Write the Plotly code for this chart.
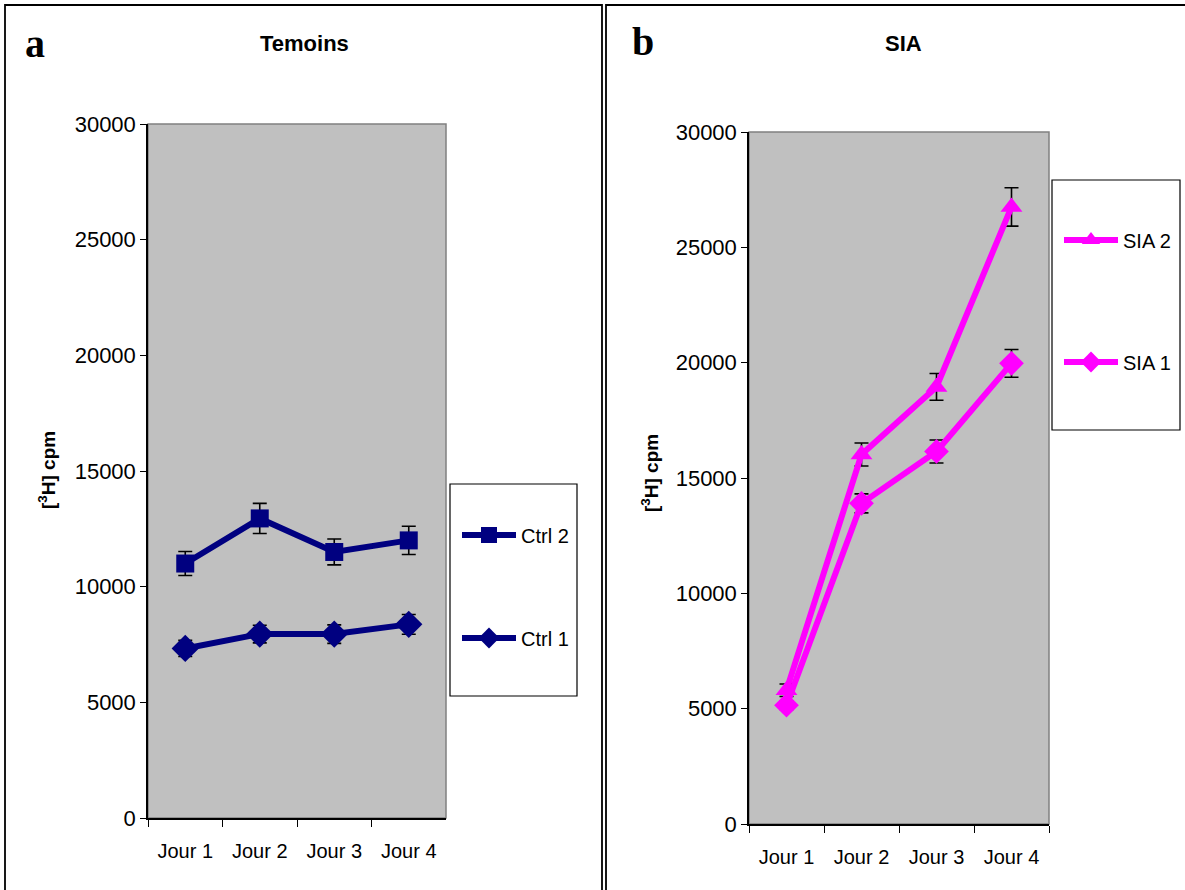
import plotly.graph_objects as go

W, H = 1185, 890

days = ["Jour 1", "Jour 2", "Jour 3", "Jour 4"]

ctrl2 = [11000, 12950, 11500, 12000]
ctrl2_err = [520, 650, 560, 610]
ctrl1 = [7330, 7950, 7950, 8370]
ctrl1_err = [350, 380, 400, 430]

sia2 = [5800, 16020, 18950, 26750]
sia2_err = [270, 500, 580, 830]
sia1 = [5150, 13900, 16150, 19970]
sia1_err = [180, 410, 500, 600]

y_ticks = [0, 5000, 10000, 15000, 20000, 25000, 30000]

NAVY = "#000080"
MAG = "#FF00FF"
FONT = "Liberation Sans, Arial, sans-serif"
SERIF = "Liberation Serif, Times New Roman, serif"


def px_x(p):
    return p / W


def px_y(p):
    return 1 - p / H


fig = go.Figure()

err_style = dict(type="data", color="black", thickness=1.6, width=7, visible=True)

fig.add_trace(go.Scatter(
    x=days, y=ctrl2, name="Ctrl 2", mode="lines+markers",
    line=dict(color=NAVY, width=6),
    marker=dict(symbol="square", size=18, color=NAVY),
    error_y=dict(array=ctrl2_err, **err_style),
    xaxis="x", yaxis="y", legend="legend", showlegend=True))
fig.add_trace(go.Scatter(
    x=days, y=ctrl1, name="Ctrl 1", mode="lines+markers",
    line=dict(color=NAVY, width=6),
    marker=dict(symbol="diamond", size=21, color=NAVY),
    error_y=dict(array=ctrl1_err, **err_style),
    xaxis="x", yaxis="y", legend="legend2", showlegend=True))
fig.add_trace(go.Scatter(
    x=days, y=sia2, name="SIA 2", mode="lines+markers",
    line=dict(color=MAG, width=6),
    marker=dict(symbol="triangle-up", size=19, color=MAG),
    error_y=dict(array=sia2_err, **err_style),
    xaxis="x2", yaxis="y2", legend="legend3", showlegend=True))
fig.add_trace(go.Scatter(
    x=days, y=sia1, name="SIA 1", mode="lines+markers",
    line=dict(color=MAG, width=6),
    marker=dict(symbol="diamond", size=19, color=MAG),
    error_y=dict(array=sia1_err, **err_style),
    xaxis="x2", yaxis="y2", legend="legend4", showlegend=True))

xfont = dict(family=FONT, size=20, color="black")
yfont = dict(family=FONT, size=22, color="black")

xcommon = dict(type="category", categoryorder="array", categoryarray=days,
               range=[-0.5, 3.5], autorange=False,
               tickson="boundaries", ticks="outside", ticklen=7, tickwidth=1,
               tickcolor="black", showline=True, linecolor="black", linewidth=1.5,
               showgrid=False, zeroline=False, tickfont=xfont,
               ticklabelstandoff=14, fixedrange=True, automargin=False)
ycommon = dict(range=[0, 30000], autorange=False, tickvals=y_ticks, tickformat="d",
               ticks="outside", ticklen=6, tickwidth=1, tickcolor="black",
               showline=True, linecolor="black", linewidth=1.5, showgrid=False,
               zeroline=False, tickfont=yfont, ticklabelstandoff=0, fixedrange=True,
               automargin=False)

L = dict(x0=148, x1=446, y0=124, y1=818)
R = dict(x0=749, x1=1049, y0=132, y1=824)

fig.update_layout(
    width=W, height=H, autosize=False,
    margin=dict(l=0, r=0, t=0, b=0, pad=0, autoexpand=False),
    paper_bgcolor="white", plot_bgcolor="#C0C0C0",
    font=dict(family=FONT, color="black"),
    showlegend=True,
    xaxis=dict(domain=[px_x(L["x0"]), px_x(L["x1"])], anchor="y", **xcommon),
    yaxis=dict(domain=[px_y(L["y1"]), px_y(L["y0"])], anchor="x", **ycommon),
    xaxis2=dict(domain=[px_x(R["x0"]), px_x(R["x1"])], anchor="y2", **xcommon),
    yaxis2=dict(domain=[px_y(R["y1"]), px_y(R["y0"])], anchor="x2", **ycommon),
)

leg_common = dict(font=dict(family=FONT, size=20, color="black"),
                  bgcolor="rgba(0,0,0,0)", borderwidth=0,
                  xanchor="left", yanchor="middle", itemwidth=54,
                  itemclick=False, itemdoubleclick=False, visible=True)
fig.update_layout(
    legend=dict(x=px_x(457), y=px_y(535), **leg_common),
    legend2=dict(x=px_x(457), y=px_y(638), **leg_common),
    legend3=dict(x=px_x(1059), y=px_y(240), **leg_common),
    legend4=dict(x=px_x(1059), y=px_y(362), **leg_common),
)

shapes = []
for xa, ya in (("x", "y"), ("x2", "y2")):
    shapes.append(dict(type="rect", xref=f"{xa} domain", yref=f"{ya} domain",
                       x0=0, x1=1, y0=0, y1=1, line=dict(color="#808080", width=1.5),
                       layer="below"))
shapes.append(dict(type="rect", xref="paper", yref="paper",
                   x0=px_x(450), x1=px_x(577), y0=px_y(696), y1=px_y(484),
                   line=dict(color="black", width=1.2), fillcolor="white", layer="below"))
shapes.append(dict(type="rect", xref="paper", yref="paper",
                   x0=px_x(1052), x1=px_x(1180), y0=px_y(430), y1=px_y(180),
                   line=dict(color="black", width=1.2), fillcolor="white", layer="below"))
shapes.append(dict(type="rect", xref="paper", yref="paper",
                   x0=px_x(5), x1=px_x(602), y0=px_y(900), y1=px_y(5),
                   line=dict(color="black", width=1.8), layer="below"))
shapes.append(dict(type="rect", xref="paper", yref="paper",
                   x0=px_x(606), x1=px_x(1200), y0=px_y(900), y1=px_y(5),
                   line=dict(color="black", width=1.8), layer="below"))
fig.update_layout(shapes=shapes)


def note(text, x, y, size, family=FONT, angle=0):
    return dict(text=text, x=px_x(x), y=px_y(y), xref="paper", yref="paper",
                xanchor="center", yanchor="middle", showarrow=False, textangle=angle,
                font=dict(family=family, size=size, color="black"))


ann = [
    note("<b>a</b>", 35, 44, 40, SERIF),
    note("<b>b</b>", 643, 42, 40, SERIF),
    note("<b>Temoins</b>", 304, 43, 22),
    note("<b>SIA</b>", 903, 43, 22),
    note("<b>[<sup>3</sup>H] cpm</b>", 47, 470, 19, angle=-90),
    note("<b>[<sup>3</sup>H] cpm</b>", 650, 473, 19, angle=-90),
]
fig.update_layout(annotations=ann)

fig.write_html("out.html", config={"displayModeBar": False})
